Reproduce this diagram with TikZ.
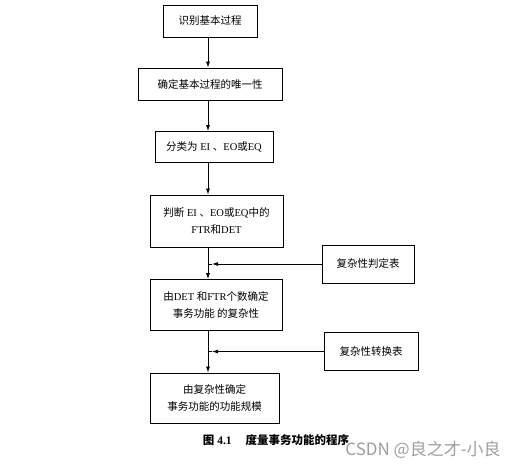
\documentclass[tikz,border=0pt]{standalone}
\usepackage{fontspec}
\setmainfont{Liberation Serif}
\newfontfamily\cjk{Noto Sans CJK SC}
\usetikzlibrary{arrows.meta}
\begin{document}
\begin{tikzpicture}[x=1pt,y=-1pt,
  box/.style={draw, line width=0.9pt, rectangle, inner sep=0pt, align=center, font=\fontsize{10.5}{16.5}\selectfont},
  arr/.style={line width=0.8pt, -{Latex[length=6pt,width=4pt]}},
  ln/.style={line width=0.8pt}]
\useasboundingbox (0,0) rectangle (531,469);
\node[box, minimum width=94, minimum height=32] (b1) at (210,21) {\cjk 识别基本过程};
\node[box, minimum width=144, minimum height=32] (b2) at (210,84) {\cjk 确定基本过程的唯一性};
\node[box, minimum width=118, minimum height=31] (b3) at (214,147) {{\cjk 分类为} EI {\cjk 、}EO{\cjk 或}EQ};
\node[box, minimum width=133, minimum height=52] (b4) at (216.5,221) {{\cjk 判断} EI {\cjk 、}EO{\cjk 或}EQ{\cjk 中的}\\FTR{\cjk 和}DET};
\node[box, minimum width=132, minimum height=51] (b5) at (216,305) {{\cjk 由}DET {\cjk 和}FTR{\cjk 个数确定}\\{\cjk 事务功能 的复杂性}};
\node[box, minimum width=129, minimum height=50] (b6) at (214.5,398) {{\cjk 由复杂性确定}\\{\cjk 事务功能的功能规模}};
\node[box, minimum width=92, minimum height=38] (s1) at (368,264) {\cjk 复杂性判定表};
\node[box, minimum width=94, minimum height=38] (s2) at (371,351.5) {\cjk 复杂性转换表};
\coordinate (sp) at (208,0);
\coordinate (j1) at (s1.west -| sp);
\coordinate (j2) at (s2.west -| sp);
\draw[arr] (b1.south -| sp) -- (b2.north -| sp);
\draw[arr] (b2.south -| sp) -- (b3.north -| sp);
\draw[arr] (b3.south -| sp) -- (b4.north -| sp);
\draw[arr] (b4.south -| sp) -- (b5.north -| sp);
\draw[arr] (b5.south -| sp) -- (b6.north -| sp);
\draw[arr] (s1.west) -- ([xshift=4]j1);
\draw[ln] ([xshift=4]j1) -- (j1);
\draw[arr] (s2.west) -- ([xshift=4]j2);
\draw[ln] ([xshift=4]j2) -- (j2);
\node[font=\fontsize{11.5}{13}\selectfont\bfseries] (cap) at (276,440) {{\cjk\bfseries 图} 4.1\hspace{1.2em}{\cjk\bfseries 度量事务功能的程序}};
\node[font=\fontsize{17}{19}\selectfont\cjk, text=black!38] (wm) at (423,450) {CSDN @良之才-小良};
\end{tikzpicture}
\end{document}
